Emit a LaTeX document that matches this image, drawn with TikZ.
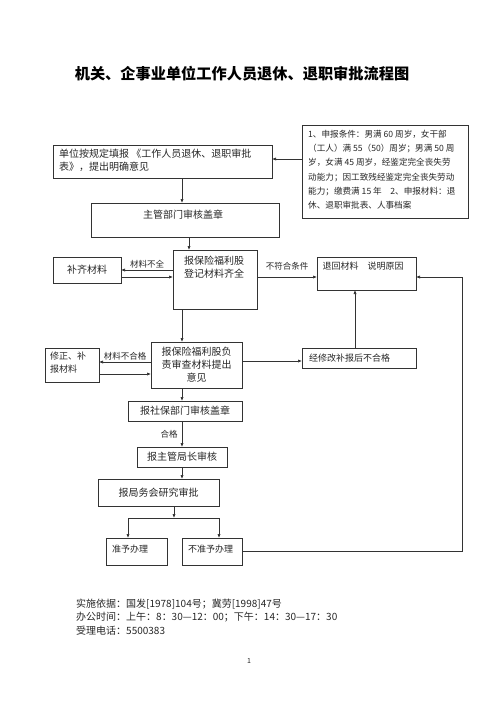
\documentclass[tikz,border=0pt]{standalone}
\usepackage{fontspec}
\setmainfont{Noto Sans CJK SC}
\usetikzlibrary{arrows.meta,calc}
\tikzset{
  box/.style={draw=black!80, line width=0.7pt, rectangle, inner sep=0pt, outer sep=0pt, font=\fontsize{10}{13}\selectfont, text=black!85},
  txt/.style={inner sep=0pt, font=\fontsize{10}{13}\selectfont, text=black!85},
  lbl/.style={inner sep=1pt, font=\fontsize{8.5}{10}\selectfont, text=black!85},
  arr/.style={draw=black!80, line width=0.7pt, -{Latex[length=4pt,width=3.2pt]}},
  ln/.style={draw=black!80, line width=0.7pt}
}
\begin{document}
\begin{tikzpicture}[x=1pt,y=-1pt]
\useasboundingbox (0,0) rectangle (500,707);
% title
\node[inner sep=0pt, font=\fontsize{15.2}{17}\selectfont\bfseries] (title) at (242,74) {机关、企事业单位工作人员退休、退职审批流程图};
% boxes
\node[box, minimum width=219pt, minimum height=33pt] (A) at (162.5,161.5) {};
\node[txt, anchor=north west, align=left] (At) at (59,149) {单位按规定填报 《工作人员退休、退职审批\\表》，提出明确意见};
\node[box, minimum width=166pt, minimum height=93pt] (B) at (385,171.5) {};
\node[txt, anchor=north west, align=left, font=\fontsize{8.6}{14.2}\selectfont] (Bt) at (308,130) {1、申报条件：男满 60 周岁，女干部\\（工人）满 55（50）周岁；男满 50 周\\岁，女满 45 周岁，经鉴定完全丧失劳\\动能力；因工致残经鉴定完全丧失劳动\\能力；缴费满 15 年\quad 2、申报材料：退\\休、退职审批表、人事档案};
\node[box, minimum width=188pt, minimum height=34pt] (C) at (185,220) {};
\node[txt] (Ct) at (183,215) {主管部门审核盖章};
\node[box, minimum width=84pt, minimum height=59pt] (D) at (215,279.5) {};
\node[txt, align=center] (Dt) at (214,267) {报保险福利股\\登记材料齐全};
\node[box, minimum width=68pt, minimum height=26pt] (E) at (87,270) {补齐材料};
\node[box, minimum width=99pt, minimum height=33pt] (F) at (366.5,273.5) {};
\node[txt, font=\fontsize{9}{11}\selectfont] (Ft) at (363,266) {退回材料\quad 说明原因};
\node[box, minimum width=91pt, minimum height=46pt, align=center] (G) at (196.5,365) {报保险福利股负\\责审查材料提出\\意见};
\node[box, minimum width=54pt, minimum height=34pt] (H) at (72,365) {};
\node[txt, anchor=north west, align=left, font=\fontsize{9}{13}\selectfont] (Ht) at (50,352) {修正、补\\报材料};
\node[box, minimum width=114pt, minimum height=20pt] (I) at (359,358) {};
\node[txt, anchor=west, font=\fontsize{9}{11}\selectfont] (It) at (309,358) {经修改补报后不合格};
\node[box, minimum width=114pt, minimum height=20pt] (J) at (185,411) {报社保部门审核盖章};
\node[box, minimum width=90pt, minimum height=20pt] (K) at (182,457) {报主管局长审核};
\node[box, minimum width=121pt, minimum height=27pt] (L) at (158.5,492.5) {报局务会研究审批};
\node[box, minimum width=61pt, minimum height=27pt] (M) at (136.5,551.5) {};
\node[txt, anchor=west, font=\fontsize{9}{11}\selectfont] (Mt) at (112,549) {准予办理};
\node[box, minimum width=60pt, minimum height=27pt] (N) at (212,551.5) {};
\node[txt, anchor=west, font=\fontsize{9}{11}\selectfont] (Nt) at (188,549) {不准予办理};
% helper coordinates
\coordinate (br) at (174,518);
\coordinate (ret) at (462,0);
% connectors
\draw[arr] (B.west |- 0,159) -- (A.east |- 0,159);
\draw[arr] ([xshift=19.5pt]A.south) -- ([xshift=19.5pt]A.south |- C.north);
\draw[arr] ([xshift=4pt]C.south) -- ([xshift=4pt]C.south |- D.north);
\draw[arr] (D.west |- E.east) -- (E.east) node[lbl, midway, above] {材料不全};
\draw[arr] ([yshift=-7pt]E.east) -- ([yshift=-7pt]E.east -| D.west);
\draw[arr] ([yshift=-3.5pt]F.west -| D.east) -- ([yshift=-3.5pt]F.west) node[lbl, pos=0.5, above=5pt] {不符合条件};
\draw[arr] ([xshift=-33pt]D.south) -- ([xshift=-33pt]D.south |- G.north);
\draw[arr] ([yshift=3pt]G.west) -- ([yshift=3pt]G.west -| H.east) node[lbl, midway, above] {材料不合格};
\draw[arr] ([yshift=-9pt]H.east) -- ([yshift=-9pt]H.east -| G.west);
\draw[arr] ([yshift=4pt]G.east) -- ([yshift=4pt]G.east -| I.west);
\draw[arr] ([xshift=-4pt]I.north) -- ([xshift=-4pt]I.north |- F.south);
\draw[arr] ([xshift=-14.5pt]G.south) -- ([xshift=-14.5pt]G.south |- J.north);
\draw[arr] ([xshift=-3pt]J.south) -- ([xshift=-3pt]J.south |- K.north) node[lbl, midway, left=3pt] {合格};
\draw[arr] (K.south) -- (K.south |- L.north);
\draw[arr] ([xshift=15.5pt]L.south) -- (br);
\draw[arr] (br) -| ([xshift=-8.5pt]M.north);
\draw[arr] (br) -| ([xshift=7pt]N.north);
\draw[arr] (N.east) -- (N.east -| ret) |- ([yshift=-3.5pt]F.east);
% footer
\node[txt, anchor=west] (f1) at (76,604) {实施依据：国发[1978]104号；冀劳[1998]47号};
\node[txt, anchor=west] (f2) at (76,617.5) {办公时间：上午：8：30—12：00；下午：14：30—17：30};
\node[txt, anchor=west] (f3) at (76,631) {受理电话：5500383};
\node[txt, font=\fontsize{7}{8}\selectfont] (pg) at (249,661) {1};
\end{tikzpicture}
\end{document}
